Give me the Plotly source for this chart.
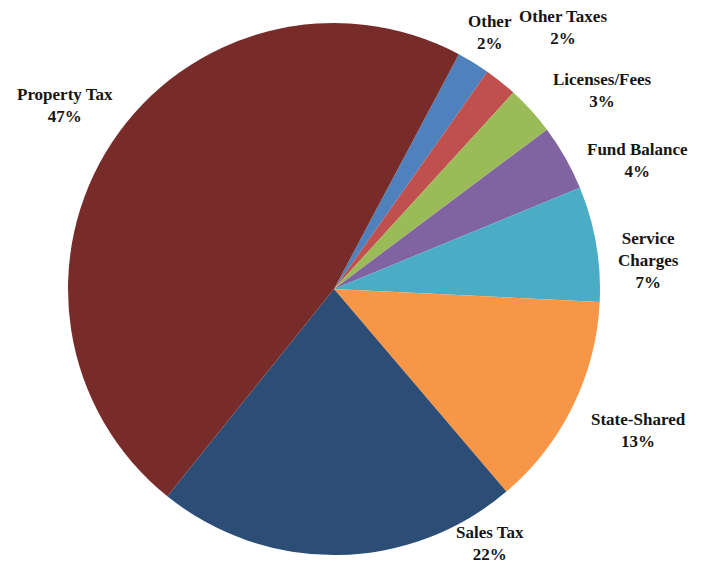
import plotly.graph_objects as go

# Data (clockwise order starting at the top-right)
categories = ["Other", "Other Taxes", "Licenses/Fees", "Fund Balance",
              "Service Charges", "State-Shared", "Sales Tax", "Property Tax"]
values = [2, 2, 3, 4, 7, 13, 22, 47]
label_text = ["Other", "Other Taxes", "Licenses/Fees", "Fund Balance",
              "Service<br>Charges", "State-Shared", "Sales Tax", "Property Tax"]

# Styles / layout
colors = ["#4F81BD", "#C0504D", "#9BBB59", "#8064A2",
          "#4BACC6", "#F79646", "#2C4D75", "#772C2A"]
W, H = 710, 565
label_pos_px = [(490, 33), (563, 28), (602, 91), (637, 161),
                (648, 260), (638, 430), (490, 543), (65, 105)]

cx, cy, r = 334, 289, 266

fig = go.Figure(go.Pie(
    labels=categories,
    values=values,
    sort=False,
    direction="clockwise",
    rotation=28,
    marker=dict(colors=colors, line=dict(width=0)),
    textinfo="none",
    hoverinfo="label+percent",
    domain=dict(x=[(cx - r) / W, (cx + r) / W],
                y=[(H - cy - r) / H, (H - cy + r) / H]),
))

total = sum(values)
for name, v, (px, py) in zip(label_text, values, label_pos_px):
    fig.add_annotation(
        x=px / W, y=1 - py / H, xref="paper", yref="paper",
        text=f"<b>{name}<br>{round(100 * v / total)}%</b>",
        showarrow=False, xanchor="center", yanchor="middle",
        font=dict(family="Liberation Serif", size=17, color="#151515"),
    )

fig.update_layout(
    width=W, height=H,
    margin=dict(l=0, r=0, t=0, b=0),
    showlegend=False,
    paper_bgcolor="white",
    plot_bgcolor="white",
)

fig.write_html("out.html")
